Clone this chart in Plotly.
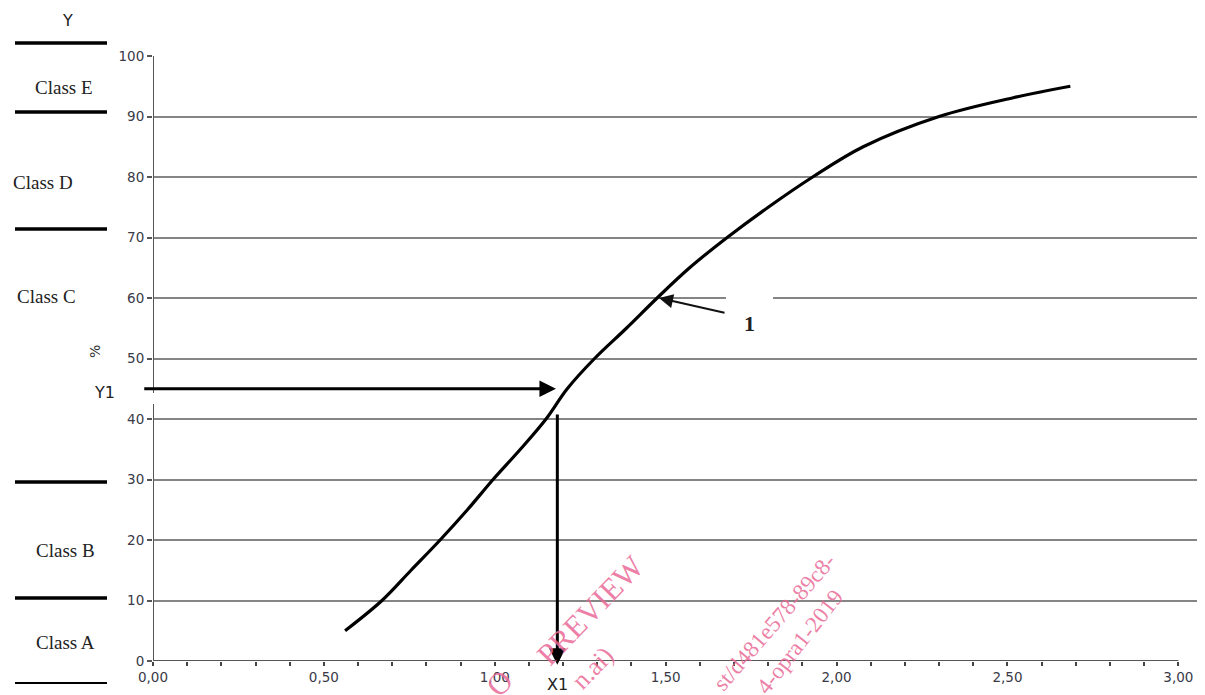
import plotly.graph_objects as go

# ---- data ----
curve_x = [0.562, 0.670, 0.755, 0.840, 0.920, 0.995, 1.075, 1.150, 1.212, 1.292, 1.385,
           1.475, 1.570, 1.680, 1.800, 1.930, 2.078, 2.300, 2.517, 2.684]
curve_y = [5, 10, 15, 20, 25, 30, 35, 40, 45, 50, 55,
           60, 65, 70, 75, 80, 85, 90, 93.1, 95]
y_ticks = [0, 10, 20, 30, 40, 50, 60, 70, 80, 90, 100]
x_minor = [round(i * 0.1, 1) for i in range(31)]
x_major = [0.0, 0.5, 1.0, 1.5, 2.0, 2.5, 3.0]
x_major_text = ["0,00", "0,50", "1,00", "1,50", "2,00", "2,50", "3,00"]
class_labels = ["Class E", "Class D", "Class C", "Class B", "Class A"]
Y1 = 45
X1 = 1.183

# ---- geometry (page has an 8px body margin) ----
OFF = 8
W, H = 1205 - OFF, 695 - OFF
L, R, T, B = 153 - OFF, 0, 56 - OFF, 34
PW, PH = W - L - R, H - T - B


def px(x):  # reference pixel x -> paper
    return (x - OFF - L) / PW


def py(y):  # reference pixel y -> paper
    return (H - B - (y - OFF)) / PH


fig = go.Figure()
fig.add_trace(go.Scatter(x=curve_x, y=curve_y, mode="lines",
                         line=dict(color="black", width=3.2, shape="spline", smoothing=1.0),
                         hoverinfo="skip", showlegend=False))

tick_font = dict(family="DejaVu Sans, sans-serif", size=13.5, color="#3a3a48")
serif = dict(family="Liberation Serif, serif", size=19, color="#222222")
sans = dict(family="DejaVu Sans, sans-serif", size=16, color="#222222")

fig.update_layout(
    width=W, height=H,
    margin=dict(l=L, r=R, t=T, b=B),
    plot_bgcolor="white", paper_bgcolor="white",
    xaxis=dict(range=[0, 3.078], showgrid=False, zeroline=False, showline=False,
               tickvals=x_minor,
               ticktext=[x_major_text[x_major.index(v)] if v in x_major else "" for v in x_minor],
               ticks="outside", ticklen=4, tickwidth=1.5, tickcolor="#444",
               tickfont=tick_font, tickangle=0),
    yaxis=dict(range=[0, 100], showgrid=True, gridcolor="#858585", gridwidth=2,
               zeroline=False, showline=False, tickvals=y_ticks,
               ticks="outside", ticklen=5, tickwidth=1.5, tickcolor="#555",
               tickfont=tick_font),
    showlegend=False,
)

shapes = []
# x axis line
shapes.append(dict(type="line", xref="x", yref="y", x0=0, x1=3.0, y0=0, y1=0,
                   line=dict(color="#555", width=2)))
# y axis line
shapes.append(dict(type="line", xref="x", yref="y", x0=0, x1=0, y0=0, y1=100,
                   line=dict(color="#555", width=2)))
# gap in y axis below Y1 arrow
shapes.append(dict(type="rect", xref="paper", yref="paper", x0=px(149), x1=px(158),
                   y0=py(404), y1=py(393), fillcolor="white", line=dict(width=0), layer="above"))
# gap in 60 gridline
shapes.append(dict(type="rect", xref="paper", yref="paper", x0=px(726), x1=px(773),
                   y0=py(301), y1=py(295), fillcolor="white", line=dict(width=0), layer="above"))
# left class separator lines
for yy, w in [(43, 3.5), (112, 3.5), (229, 3.5), (482, 3.5), (598, 3.5), (683, 2)]:
    shapes.append(dict(type="line", xref="paper", yref="paper", x0=px(15), x1=px(107),
                       y0=py(yy), y1=py(yy), line=dict(color="black", width=w)))
fig.update_layout(shapes=shapes)

ann = []
# class labels
for lab, xx, yy in zip(class_labels, [64, 43, 46, 65, 65], [88, 182, 296, 550, 642]):
    ann.append(dict(xref="paper", yref="paper", x=px(xx), y=py(yy), text=lab,
                    showarrow=False, font=serif, xanchor="center", yanchor="middle"))
ann.append(dict(xref="paper", yref="paper", x=px(67), y=py(20), text="Y",
                showarrow=False, font=sans, xanchor="center", yanchor="middle"))
ann.append(dict(xref="paper", yref="paper", x=px(95), y=py(352), text="%", textangle=-90,
                showarrow=False, font=dict(family="DejaVu Sans, sans-serif", size=14, color="#333"),
                xanchor="center", yanchor="middle"))
ann.append(dict(xref="paper", yref="paper", x=px(104), y=py(392), text="Y1",
                showarrow=False, font=sans, xanchor="center", yanchor="middle"))
ann.append(dict(xref="paper", yref="paper", x=px(557), y=py(684), text="X1",
                showarrow=False, font=sans, xanchor="center", yanchor="middle"))
# Y1 horizontal arrow
ann.append(dict(xref="x", yref="y", axref="x", ayref="y", x=X1 - 0.004, y=Y1, ax=-0.03, ay=Y1,
                text="", showarrow=True, arrowhead=2, arrowsize=1.1, arrowwidth=3, arrowcolor="black"))
# X1 vertical arrow
ann.append(dict(xref="x", yref="y", axref="x", ayref="y", x=X1, y=-0.6, ax=X1, ay=41,
                text="", showarrow=True, arrowhead=2, arrowsize=1.1, arrowwidth=3, arrowcolor="black"))
# "1" pointer
ann.append(dict(xref="paper", yref="paper", x=px(659), y=py(298), ax=67, ay=15,
                axref="pixel", ayref="pixel", text="", showarrow=True, arrowhead=2,
                arrowsize=1.4, arrowwidth=2, arrowcolor="#111"))
ann.append(dict(xref="paper", yref="paper", x=px(749), y=py(323), text="<b>1</b>",
                showarrow=False, font=dict(family="Liberation Serif, serif", size=22, color="#222"),
                xanchor="center", yanchor="middle"))
# watermark
pink = "rgba(233,105,150,0.85)"
wm = [("PREVIEW", 590, 610, -46, 31), ("O", 499, 683, -46, 31), ("n.ai)", 592, 668, -46, 26),
      ("st/d481e578-89c8-", 774, 622, -49, 23), ("4-opra1-2019", 799, 642, -52, 23)]
for txt, xx, yy, ang, sz in wm:
    ann.append(dict(xref="paper", yref="paper", x=px(xx), y=py(yy), text=txt,
                    textangle=ang, showarrow=False, xanchor="center", yanchor="middle",
                    font=dict(family="Liberation Serif, serif", size=sz, color=pink)))
fig.update_layout(annotations=ann)

fig.write_html("out.html")
